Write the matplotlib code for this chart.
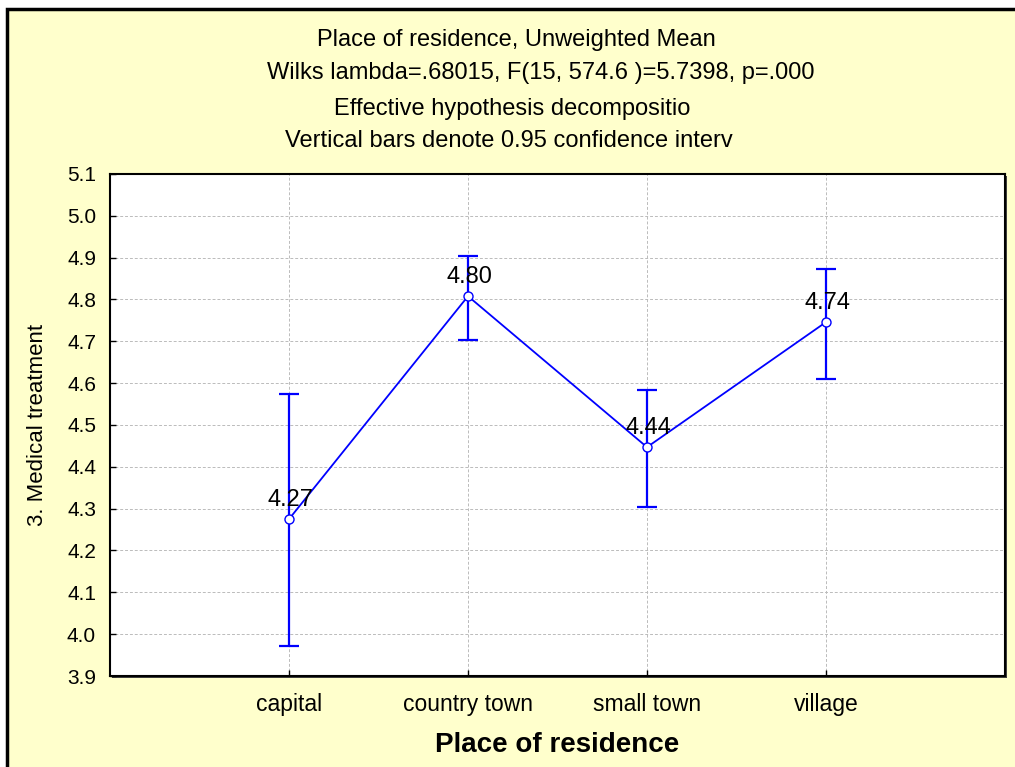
import matplotlib
matplotlib.use("Agg")
import matplotlib.pyplot as plt
from matplotlib.patches import Rectangle

categories = ["capital", "country town", "small town", "village"]
means = [4.275, 4.808, 4.447, 4.746]
ci_low = [3.971, 4.702, 4.305, 4.610]
ci_high = [4.574, 4.905, 4.584, 4.872]
point_labels = ["4.27", "4.80", "4.44", "4.74"]
yticks = [3.9, 4.0, 4.1, 4.2, 4.3, 4.4, 4.5, 4.6, 4.7, 4.8, 4.9, 5.0, 5.1]
title_lines = [
    "Place of residence, Unweighted Mean",
    "Wilks lambda=.68015, F(15, 574.6 )=5.7398, p=.000",
    "Effective hypothesis decompositio",
    "Vertical bars denote 0.95 confidence interv",
]

W, H = 1015, 767
plt.rcParams['font.family'] = ['Liberation Sans', 'DejaVu Sans']
fig = plt.figure(figsize=(W / 100, H / 100), dpi=100)
fig.patch.set_facecolor("white")

BG = "#FFFFCC"
# outer frame (only left/top visible)
fig.patches.append(Rectangle((7 / W, -0.1), 1.2, 1 - 9 / H + 0.1, transform=fig.transFigure,
                             facecolor=BG, edgecolor="black", linewidth=2.5, zorder=-2))

L, R, T, B = 110, 1005, 174, 676
ax = fig.add_axes([L / W, 1 - B / H, (R - L) / W, (B - T) / H])
ax.set_facecolor("white")
# shadow
fig.patches.append(Rectangle((L / W + 2 / W, 1 - B / H - 2 / H), (R - L) / W, (B - T) / H,
                             transform=fig.transFigure, facecolor="#404040", edgecolor="none", zorder=-1))

x = list(range(len(categories)))
ax.set_xlim(-1, 4)
ax.set_ylim(3.9, 5.1)
ax.set_yticks(yticks)
ax.set_yticklabels([f"{v:.1f}" for v in yticks])
ax.set_xticks(x)
ax.set_xticklabels(categories)
ax.grid(True, color="#BBBBBB", linestyle=(0, (3, 2)), linewidth=0.7)
ax.set_axisbelow(True)
for s in ax.spines.values():
    s.set_linewidth(1.5)
ax.tick_params(axis="both", direction="in", length=4, width=1, colors="black")
ax.tick_params(axis="x", pad=12, labelsize=16.5)
ax.tick_params(axis="y", pad=10, labelsize=15)

yerr = [[m - lo for m, lo in zip(means, ci_low)], [hi - m for m, hi in zip(means, ci_high)]]
ax.errorbar(x, means, yerr=yerr, fmt="none", ecolor="#0000FF", elinewidth=1.6, capsize=7, capthick=1.6, zorder=3)
ax.plot(x, means, color="#0000FF", linewidth=1.3, marker="o", markersize=6.5,
        markerfacecolor="white", markeredgecolor="#0000FF", markeredgewidth=1, zorder=4)
for xi, m, lab in zip(x, means, point_labels):
    ax.annotate(lab, (xi, m), xytext=(1, 6), textcoords="offset points", ha="center", va="bottom",
                fontsize=17, color="black", zorder=5)

ax.set_ylabel("3. Medical treatment", fontsize=16, labelpad=14)
ax.set_xlabel("Place of residence", fontsize=20, fontweight="bold", labelpad=12)

title_x = [317, 267, 334, 285]
title_y = [40, 73, 109, 141]
for txt, x0, yc in zip(title_lines, title_x, title_y):
    fig.text(x0 / W, 1 - yc / H, txt, ha="left", va="center", fontsize=17, color="black")

fig.savefig("out.png", dpi=100, facecolor=fig.get_facecolor())
